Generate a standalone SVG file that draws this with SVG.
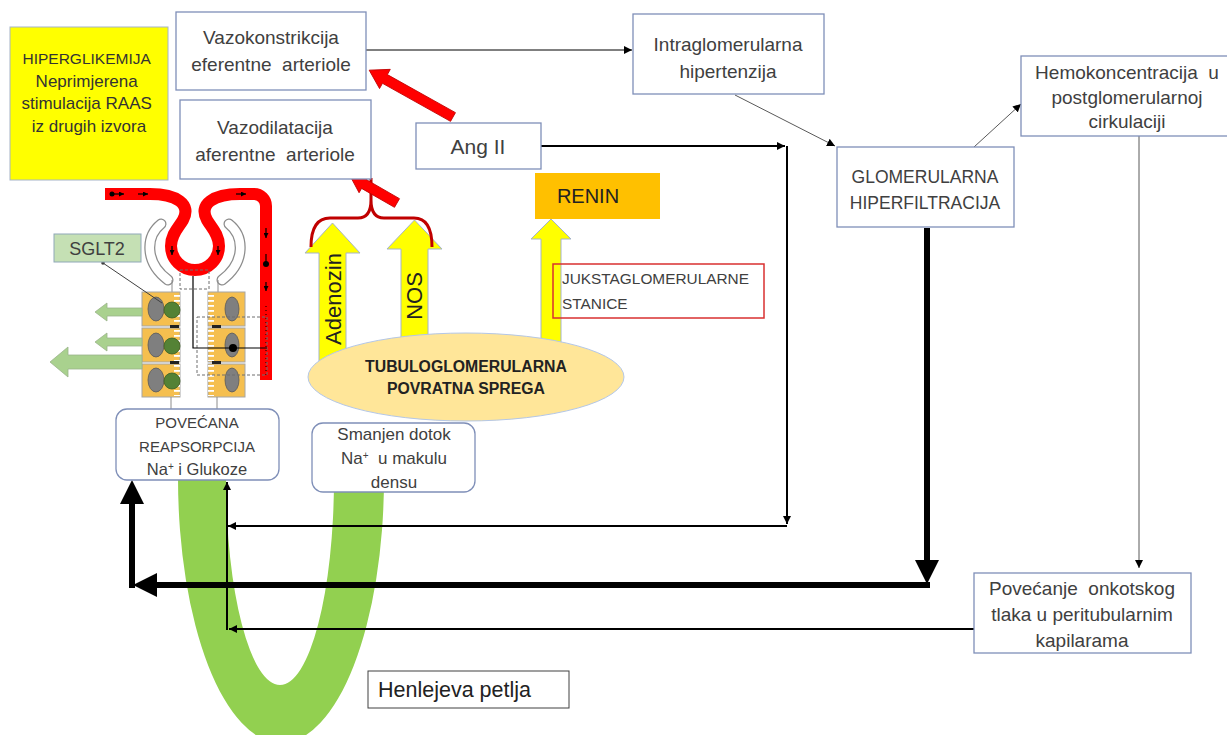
<svg xmlns="http://www.w3.org/2000/svg" width="1227" height="735" viewBox="0 0 1227 735">
<defs>
<style>
.t{font-family:"Liberation Sans",Arial,sans-serif;fill:#404040;text-anchor:middle;font-size:16px}
.box{fill:#fff;stroke:#7F8FB8;stroke-width:1.3}
.c1{stroke:#000;stroke-width:1;fill:none}
.cg{stroke:#595959;stroke-width:1;fill:none}
.c2{stroke:#000;stroke-width:2;fill:none}
.c3{stroke:#000;stroke-width:6;fill:none}
.yarr{fill:#FFFF00;stroke:#A5B4C8;stroke-width:1}
.garr{fill:#A9D18E;stroke:#9AB48A;stroke-width:0.8}
.cell{fill:#F5BF4F;stroke:#A6A6A6;stroke-width:1}
.nuc{fill:#7F7F7F;stroke:#595959;stroke-width:0.8}
.grn{fill:#548235;stroke:#3B5E25;stroke-width:0.8}
.red{fill:#FF0000;stroke:#C00000;stroke-width:0.8}
.tick{stroke:#000;stroke-width:1.2;fill:none}
.dash{fill:none;stroke:#6F6F6F;stroke-width:1;stroke-dasharray:3 2}
</style>
<marker id="ah" viewBox="0 0 10 10" refX="10" refY="5" markerWidth="8" markerHeight="8" orient="auto" markerUnits="userSpaceOnUse"><path d="M0,0 L10,5 L0,10 z" fill="#000"/></marker>
<marker id="big" viewBox="0 0 10 10" refX="0" refY="5" markerWidth="24" markerHeight="24" orient="auto" markerUnits="userSpaceOnUse"><path d="M0,0 L10,5 L0,10 z" fill="#000"/></marker>
<marker id="tm" viewBox="0 0 10 10" refX="10" refY="5" markerWidth="5" markerHeight="5" orient="auto" markerUnits="userSpaceOnUse"><path d="M0,0 L10,5 L0,10 z" fill="#000"/></marker>
<pattern id="mv" width="8" height="5" patternUnits="userSpaceOnUse"><rect width="8" height="1.8" fill="#fff"/></pattern>
</defs>
<rect width="1227" height="735" fill="#fff"/>

<!-- Henle loop (green U) -->
<g id="henle-loop">
<path d="M178,478 A103,265 0 0 0 384,478 L334,478 A54,207 0 0 1 226,478 Z" fill="#92D050"/>
</g>

<!-- nephron illustration -->
<g id="nephron">
<path d="M161,224 C146,236 144,262 168,280" fill="none" stroke="#8C8C8C" stroke-width="11" stroke-linecap="round"/>
<path d="M161,224 C146,236 144,262 168,280" fill="none" stroke="#fff" stroke-width="8.5" stroke-linecap="round"/>
<path d="M229,224 C244,236 246,262 222,280" fill="none" stroke="#8C8C8C" stroke-width="11" stroke-linecap="round"/>
<path d="M229,224 C244,236 246,262 222,280" fill="none" stroke="#fff" stroke-width="8.5" stroke-linecap="round"/>
<line x1="172" y1="280" x2="172" y2="292" stroke="#8C8C8C"/>
<line x1="218" y1="280" x2="218" y2="292" stroke="#8C8C8C"/>
<path d="M105,194 H150 C176,194 192,204 183,220 C179,227 171,234 171,246 A24,24 0 0 0 219,246 C219,234 211,227 207,220 C198,204 214,194 240,194 H254 A12,12 0 0 1 266,206 V380" fill="none" stroke="#FF0000" stroke-width="12"/>
<circle cx="112" cy="194" r="2.5"/>
<path class="tick" d="M112,194 H124" marker-end="url(#tm)"/>
<path class="tick" d="M138,194 H148" marker-end="url(#tm)"/>
<path class="tick" d="M236,194 H246" marker-end="url(#tm)"/>
<path class="tick" d="M172,246 V255" marker-end="url(#tm)"/>
<path class="tick" d="M218,246 V255" marker-end="url(#tm)"/>
<path class="tick" d="M266,228 V238" marker-end="url(#tm)"/>
<circle cx="266" cy="264" r="3"/>
<path class="tick" d="M266,254 V262"/>
<path class="tick" d="M266,282 V291" marker-end="url(#tm)"/>
<path d="M266,306 V378" stroke="#000" stroke-width="1" stroke-dasharray="1 3"/>

<rect class="dash" x="180" y="270" width="29" height="19"/>
<g id="cells">
<rect class="cell" x="142" y="292" width="38" height="34"/>
<rect class="cell" x="142" y="328" width="38" height="34"/>
<rect class="cell" x="142" y="364" width="38" height="33"/>
<rect class="cell" x="208" y="292" width="37" height="34"/>
<rect class="cell" x="208" y="328" width="37" height="34"/>
<rect class="cell" x="208" y="364" width="37" height="33"/>
<rect x="174" y="293" width="6" height="32" fill="url(#mv)"/>
<rect x="174" y="329" width="6" height="32" fill="url(#mv)"/>
<rect x="174" y="365" width="6" height="31" fill="url(#mv)"/>
<rect x="208" y="293" width="6" height="32" fill="url(#mv)"/>
<rect x="208" y="329" width="6" height="32" fill="url(#mv)"/>
<rect x="208" y="365" width="6" height="31" fill="url(#mv)"/>
<rect x="170" y="325" width="9" height="3" fill="#222"/>
<rect x="170" y="361" width="9" height="3" fill="#222"/>
<rect x="212" y="325" width="9" height="3" fill="#222"/>
<rect x="212" y="361" width="9" height="3" fill="#222"/>
<ellipse class="nuc" cx="156" cy="309" rx="8" ry="12"/>
<ellipse class="nuc" cx="156" cy="345" rx="8" ry="12"/>
<ellipse class="nuc" cx="156" cy="380" rx="8" ry="12"/>
<circle class="grn" cx="172" cy="310" r="8"/>
<circle class="grn" cx="172" cy="346" r="8"/>
<circle class="grn" cx="172" cy="381" r="8"/>
<ellipse class="nuc" cx="232" cy="309" rx="7" ry="12"/>
<ellipse class="nuc" cx="232" cy="345" rx="7" ry="12"/>
<ellipse class="nuc" cx="232" cy="380" rx="7" ry="12"/>
</g>
<line x1="171" y1="397" x2="171" y2="410" stroke="#8C8C8C"/>
<line x1="217" y1="397" x2="217" y2="410" stroke="#8C8C8C"/>
<rect class="dash" x="197" y="317" width="70" height="58"/>
<path d="M193,276 V348 H267" fill="none" stroke="#000" stroke-width="1.2"/>
<circle cx="233" cy="348" r="4" fill="#000"/>
<polygon class="garr" points="142,308 107,308 107,303 95,312 107,321 107,316 142,316"/>
<polygon class="garr" points="142,338 107,338 107,333 95,342 107,351 107,346 142,346"/>
<polygon class="garr" points="142,355 68,355 68,347 50,362 68,377 68,369 142,369"/>
</g>

<g id="sglt2">
<line x1="103" y1="263" x2="162" y2="303" stroke="#404040" stroke-width="1"/>
<circle cx="103" cy="263" r="1.8" fill="#404040"/>
<rect x="54" y="234" width="87" height="28" fill="#C5E0B4" stroke="#8FA8B8" stroke-width="1"/>
<text class="t" x="97" y="255" style="font-size:18px">SGLT2</text>
</g>

<!-- yellow arrows -->
<g id="adenozin">
<polygon class="yarr" points="319,370 319,253 305,253 332.5,223 360,253 346,253 346,370"/>
<text class="t" transform="translate(333,299) rotate(-90)" dominant-baseline="central" style="font-size:22px;fill:#222">Adenozin</text>
</g>
<g id="nos">
<polygon class="yarr" points="401,360 401,249 387,249 414.5,220 442,249 428,249 428,360"/>
<text class="t" transform="translate(414,296) rotate(-90)" dominant-baseline="central" style="font-size:22px;fill:#222">NOS</text>
</g>
<g id="renin-arrow">
<polygon class="yarr" points="541,350 541,239 531,239 551,219 571,239 561,239 561,350"/>
</g>

<!-- red bracket and red arrows -->
<g id="red-bracket">
<path d="M311,247 Q311,218 330,218 H358 Q371,218 371,200 Q371,218 384,218 H414 Q432,218 432,247 M371,200 V178" fill="none" stroke="#C00000" stroke-width="3"/>
</g>
<g id="red-arrows">
<polygon class="red" transform="translate(453,117) rotate(209.2)" points="0,-5 78,-5 78,-11 96,0 78,11 78,5 0,5"/>
<polygon class="red" transform="translate(397,203) rotate(209.9)" points="0,-5 38,-5 38,-10 54,0 38,10 38,5 0,5"/>
</g>

<!-- connectors -->
<g id="connectors">
<line class="c1" x1="366" y1="50" x2="632" y2="50" marker-end="url(#ah)"/>
<line class="cg" x1="735" y1="95" x2="835" y2="146" marker-end="url(#ah)"/>
<line class="cg" x1="974" y1="147" x2="1021" y2="104" marker-end="url(#ah)"/>
<line class="cg" x1="1139" y1="136" x2="1139" y2="568" marker-end="url(#ah)"/>
<path class="c2" d="M541,146 H785" marker-end="url(#ah)"/>
<path class="c2" d="M787,146 V524" marker-end="url(#ah)"/>
<path class="c2" d="M787,526 H228" marker-end="url(#ah)"/>
<path class="c2" d="M974,629 H229" marker-end="url(#ah)"/>
<path class="c2" d="M227,630 V482" marker-end="url(#ah)"/>
<path class="c3" d="M927,228 V560" marker-end="url(#big)"/>
<path class="c3" d="M930,585 H157" marker-end="url(#big)"/>
<path class="c3" d="M132,588 V504" marker-end="url(#big)"/>
</g>

<!-- nodes -->
<g id="hiperglikemija">
<rect x="10" y="27" width="158" height="153" fill="#FFFF00" stroke="#A5B4C8" stroke-width="1"/>
<text class="t" style="fill:#333;font-size:17px">
<tspan x="89" y="64" style="font-size:15.5px">HIPERGLIKEMIJA</tspan>
<tspan x="89" y="87">Neprimjerena</tspan>
<tspan x="89" y="109">stimulacija RAAS</tspan>
<tspan x="89" y="132">iz drugih izvora</tspan>
</text>
</g>
<g id="vazokonstrikcija">
<rect class="box" x="176" y="12" width="190" height="78"/>
<text class="t" style="font-size:19px"><tspan x="271" y="44">Vazokonstrikcija</tspan><tspan x="271" y="71">eferentne&#160; arteriole</tspan></text>
</g>
<g id="vazodilatacija">
<rect class="box" x="180" y="100" width="191" height="79"/>
<text class="t" style="font-size:19px"><tspan x="275" y="134">Vazodilatacija</tspan><tspan x="275" y="161">aferentne&#160; arteriole</tspan></text>
</g>
<g id="ang-ii">
<rect class="box" x="416" y="123" width="125" height="46"/>
<text class="t" x="478" y="154" style="font-size:21px">Ang II</text>
</g>
<g id="renin">
<rect x="535" y="173" width="125" height="46" fill="#FFC000"/>
<text class="t" x="588" y="203" style="font-size:20px;fill:#222">RENIN</text>
</g>
<g id="jukstaglomerularne">
<rect x="553" y="264" width="211" height="54" fill="none" stroke="#D93030" stroke-width="1.5"/>
<text class="t" style="text-anchor:start;font-size:15.4px"><tspan x="562" y="284">JUKSTAGLOMERULARNE</tspan><tspan x="562" y="309">STANICE</tspan></text>
</g>
<g id="intraglomerularna">
<rect class="box" x="633" y="14" width="191" height="80"/>
<text class="t" style="font-size:19px"><tspan x="728" y="51">Intraglomerularna</tspan><tspan x="728" y="78">hipertenzija</tspan></text>
</g>
<g id="glomerularna">
<rect class="box" x="837" y="147" width="177" height="80"/>
<text class="t" style="font-size:17.5px"><tspan x="925" y="183">GLOMERULARNA</tspan><tspan x="925" y="209">HIPERFILTRACIJA</tspan></text>
</g>
<g id="hemokoncentracija">
<rect class="box" x="1021" y="56" width="210" height="80"/>
<text class="t" style="font-size:19px"><tspan x="1127" y="79">Hemokoncentracija&#160; u</tspan><tspan x="1127" y="104">postglomerularnoj</tspan><tspan x="1127" y="128">cirkulaciji</tspan></text>
</g>
<g id="povecanje">
<rect class="box" x="974" y="573" width="217" height="80"/>
<text class="t" style="font-size:19px"><tspan x="1082" y="595">Povećanje&#160; onkotskog</tspan><tspan x="1082" y="621">tlaka u peritubularnim</tspan><tspan x="1082" y="647">kapilarama</tspan></text>
</g>
<g id="tubuloglomerularna">
<ellipse cx="466" cy="377" rx="158" ry="44" fill="#FFE699" stroke="#B4C7E7" stroke-width="1"/>
<text class="t" style="font-size:15.8px;font-weight:bold;fill:#222"><tspan x="466" y="372">TUBULOGLOMERULARNA</tspan><tspan x="466" y="394">POVRATNA SPREGA</tspan></text>
</g>
<g id="povecana">
<rect class="box" x="116" y="409" width="163" height="71" rx="11"/>
<text class="t" style="font-size:15px"><tspan x="197" y="428">POVEĆANA</tspan><tspan x="197" y="452">REAPSORPCIJA</tspan><tspan x="197" y="475" style="font-size:16.5px">Na<tspan baseline-shift="super" font-size="10">+</tspan> i Glukoze</tspan></text>
</g>
<g id="smanjen">
<rect class="box" x="312" y="423" width="163" height="69" rx="11"/>
<text class="t" style="font-size:17px"><tspan x="394" y="440">Smanjen dotok</tspan><tspan x="394" y="464">Na<tspan baseline-shift="super" font-size="10">+</tspan>&#160; u makulu</tspan><tspan x="394" y="488">densu</tspan></text>
</g>
<g id="henle-label">
<rect x="368" y="671" width="201" height="37" fill="#fff" stroke="#404040" stroke-width="1"/>
<text class="t" x="378" y="697" style="text-anchor:start;font-size:21.5px;fill:#222">Henlejeva petlja</text>
</g>
</svg>
